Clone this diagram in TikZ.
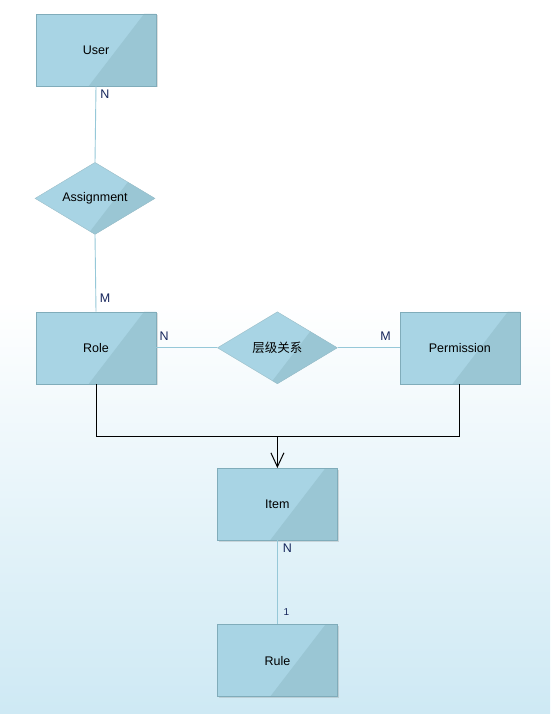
\documentclass[tikz,border=0pt]{standalone}
\usepackage{fontspec}
\setmainfont{Liberation Sans}
\newfontfamily\cjkfont{Noto Sans CJK SC}
\usetikzlibrary{positioning,arrows.meta,shapes.geometric,calc,shadows}
\definecolor{ent}{RGB}{168,212,228}
\definecolor{entdk}{RGB}{154,198,212}
\definecolor{entln}{RGB}{128,172,186}
\definecolor{lnk}{RGB}{150,200,216}
\definecolor{card}{RGB}{22,38,92}
\definecolor{bgbot}{RGB}{206,233,244}

\begin{document}
\begin{tikzpicture}[x=1pt,y=1pt,font=\fontsize{12.5}{14}\selectfont,>={Straight Barb[length=14pt,width=13pt]},node distance=76pt and 61pt,
  tone/.style={path picture={\fill[entdk] ($(path picture bounding box.south west)!0.44!(path picture bounding box.south east)$) -- (path picture bounding box.south east) -- (path picture bounding box.north east) -- ($(path picture bounding box.north west)!0.9!(path picture bounding box.north east)$) -- cycle;}},
  entity/.style={draw=entln,fill=ent,tone,minimum width=120pt,minimum height=72pt,inner sep=0pt,drop shadow={shadow xshift=1.5pt,shadow yshift=-1.5pt,opacity=0.25}},
  rel/.style={diamond,draw=entln!80,fill=ent,tone,minimum width=120pt,minimum height=72pt,aspect=1.667,inner sep=0pt},
  link/.style={draw=lnk,line width=0.9pt},
  card/.style={text=card,inner sep=0pt}]
  % background
  \fill[white] (0,0) rectangle (550,-714);
  \shade[top color=white,bottom color=bgbot] (0,-300) rectangle (550,-714);
  \useasboundingbox (0,0) rectangle (550,-714);
  % entities and relations
  \node[entity] (user) at (96,-50) {User};
  \node[rel,below=76pt of user.south,anchor=north,xshift=-1pt] (assign) {Assignment};
  \node[entity,below=77pt of assign.south,anchor=north,xshift=1pt] (role) {Role};
  \node[rel,right=of role] (level) {\cjkfont 层级关系};
  \node[entity,right=62pt of level] (perm) {Permission};
  \node[entity,below=84pt of level] (item) {Item};
  \node[entity,below=84pt of item] (rule) {Rule};
  % connectors
  \draw[link] (user.south) -- (assign.north);
  \draw[link] (assign.south) -- (role.north);
  \draw[link] (role.east) -- (level.west);
  \draw[link] (level.east) -- (perm.west);
  \draw[link] (item.south) -- (rule.north);
  \coordinate[below=52pt of role.south] (rbend);
  \coordinate (pbend) at (perm.south |- rbend);
  \coordinate (ibend) at (item.north |- rbend);
  \draw[line width=1pt] (role.south) -- (rbend) -- (pbend) -- (perm.south);
  \draw[->,line width=1pt] (ibend) -- (item.north);
  % cardinalities
  \node[card] (c1) at ([xshift=9pt,yshift=-8pt]user.south) {N};
  \node[card] (c2) at ([xshift=9pt,yshift=13pt]role.north) {M};
  \node[card] (c3) at ([xshift=8pt,yshift=12pt]role.east) {N};
  \node[card] (c4) at ([xshift=-14pt,yshift=12pt]perm.west) {M};
  \node[card] (c5) at ([xshift=10pt,yshift=-8pt]item.south) {N};
  \node[card,font=\fontsize{10}{12}\selectfont] (c6) at ([xshift=9pt,yshift=12pt]rule.north) {1};
\end{tikzpicture}
\end{document}
